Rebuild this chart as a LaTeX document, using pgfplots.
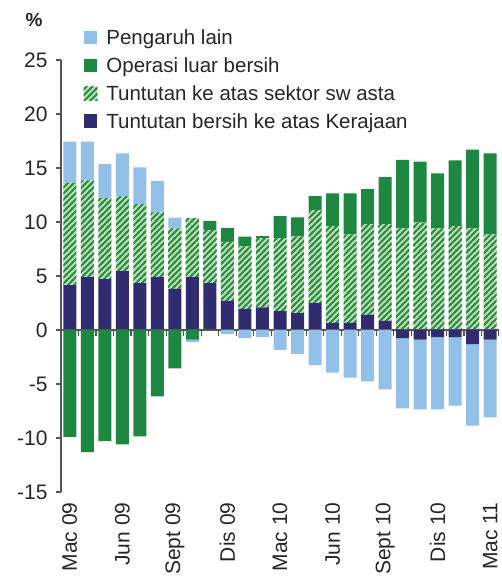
\documentclass[border=0pt]{standalone}
\usepackage{pgfplots}
\pgfplotsset{compat=1.18}
\usepackage{pgfplotstable}
\usepackage{fontspec}
\setmainfont{Liberation Sans}
\usetikzlibrary{patterns}

\definecolor{cblue}{HTML}{92C0E8}
\definecolor{cgreen}{HTML}{1E8741}
\definecolor{cnavy}{HTML}{312C70}
\definecolor{chatchbg}{HTML}{BCE0B4}
\definecolor{chatch}{HTML}{2E8C48}
\definecolor{caxis}{HTML}{555555}

\pgfdeclarepatternformonly{stripes}{\pgfqpoint{-1pt}{-1pt}}{\pgfqpoint{7pt}{7pt}}{\pgfqpoint{6pt}{6pt}}{%
 \pgfsetlinewidth{2.1pt}%
 \pgfpathmoveto{\pgfqpoint{-1pt}{-1pt}}\pgfpathlineto{\pgfqpoint{7pt}{7pt}}%
 \pgfpathmoveto{\pgfqpoint{-1pt}{5pt}}\pgfpathlineto{\pgfqpoint{1pt}{7pt}}%
 \pgfpathmoveto{\pgfqpoint{5pt}{-1pt}}\pgfpathlineto{\pgfqpoint{7pt}{1pt}}%
 \pgfusepath{stroke}}

\pgfplotstableread{
x  navyP hatchP greenP blueP navyN greenN blueN
0  4.15  9.50   0      3.80  0      -9.90  0
1  4.90  8.95   0      3.60  0      -11.30 0
2  4.70  7.50   0      3.15  0      -10.30 0
3  5.45  6.90   0      4.00  0      -10.60 0
4  4.35  7.30   0      3.40  0      -9.85  0
5  4.90  6.00   0      2.90  0      -6.15  0
6  3.80  5.60   0      1.00  0      -3.55  0
7  4.90  5.45   0      0     0      -0.90  -0.20
8  4.35  4.90   0.85   0     0      0      0
9  2.70  5.45   1.30   0     0      0      -0.35
10 1.95  5.80   0.90   0     0      0      -0.75
11 2.10  6.40   0.20   0     0      0      -0.65
12 1.75  6.75   2.05   0     0      0      -1.85
13 1.57  7.10   1.75   0     0      0      -2.20
14 2.50  8.60   1.30   0     0      0      -3.25
15 0.65  8.95   3.05   0     0      0      -3.95
16 0.65  8.20   3.80   0     0      0      -4.40
17 1.40  8.40   3.25   0     0      0      -4.75
18 0.85  8.95   4.35   0     0      0      -5.50
19 0     9.40   6.35   0     -0.75  0      -6.50
20 0     9.95   5.65   0     -0.90  0      -6.45
21 0     9.40   5.10   0     -0.65  0      -6.70
22 0     9.60   6.10   0     -0.65  0      -6.35
23 0     9.40   7.30   0     -1.30  0      -7.55
24 0     8.85   7.50   0     -0.90  0      -7.20
}\data

\begin{document}
\begin{tikzpicture}
\pgfplotsset{
  base/.style={
    width=438pt, height=432pt, scale only axis,
    at={(0pt,0pt)}, anchor=south west,
    xmin=-0.5, xmax=24.5, ymin=-15, ymax=25,
    ybar stacked, bar width=13pt,
  }
}
\begin{axis}[base,
  axis y line*=left, axis x line*=bottom,
  x axis line style={draw=none},
  xtick={0,3,...,24},
  xticklabels={Mac 09,Jun 09,Sept 09,Dis 09,Mac 10,Jun 10,Sept 10,Dis 10,Mac 11},
  major x tick style={draw=none},
  x tick label style={rotate=90, anchor=east, xshift=-2pt},
  y tick label style={xshift=-5pt},
  ytick={-15,-10,...,25},
  tick align=outside, major tick length=5pt,
  y axis line style={caxis, line width=1.2pt},
  ytick style={caxis, line width=1.2pt},
  tick label style={font=\fontsize{21}{23}\selectfont, text=black!85},
  /pgf/number format/assume math mode=true,
  reverse legend,
  legend style={at={(axis description cs:0.045,1.08)}, anchor=north west,
    draw=none, fill=none, font=\fontsize{20.5}{22}\selectfont, row sep=7.5pt,
    text=black!85,
    /tikz/every odd column/.append style={column sep=7pt}},
  legend cell align=left,
  legend image code/.code={\draw[#1, draw=none] (0pt,-6.5pt) rectangle (13.5pt,7pt);},
]
\addplot[fill=cnavy, draw=none] table[x=x, y=navyP] {\data};
\addlegendentry{Tuntutan bersih ke atas Kerajaan}
\addplot[fill=chatchbg, draw=none, postaction={pattern=stripes, pattern color=chatch}] table[x=x, y=hatchP] {\data};
\addlegendentry{Tuntutan ke atas sektor sw asta}
\addplot[fill=cgreen, draw=none] table[x=x, y=greenP] {\data};
\addlegendentry{Operasi luar bersih}
\addplot[fill=cblue, draw=none] table[x=x, y=blueP] {\data};
\addlegendentry{Pengaruh lain}
\end{axis}
\begin{axis}[base, hide axis]
\addplot[fill=cnavy, draw=none] table[x=x, y=navyN] {\data};
\addplot[fill=cgreen, draw=none] table[x=x, y=greenN] {\data};
\addplot[fill=cblue, draw=none] table[x=x, y=blueN] {\data};
\draw[caxis, line width=1.5pt] (axis cs:-0.5,0) -- (axis cs:24.5,0);
\pgfplotsinvokeforeach{-0.5,0.5,...,24.5}{\draw[caxis, line width=1.2pt] (axis cs:#1,0) -- ++(0pt,-6pt);}
\end{axis}
\node[font=\bfseries\fontsize{19}{20}\selectfont, text=black!85] at (-27pt,472pt) {\%};
\path (-61pt,-89pt) rectangle (441pt,492pt);
\end{tikzpicture}
\end{document}
